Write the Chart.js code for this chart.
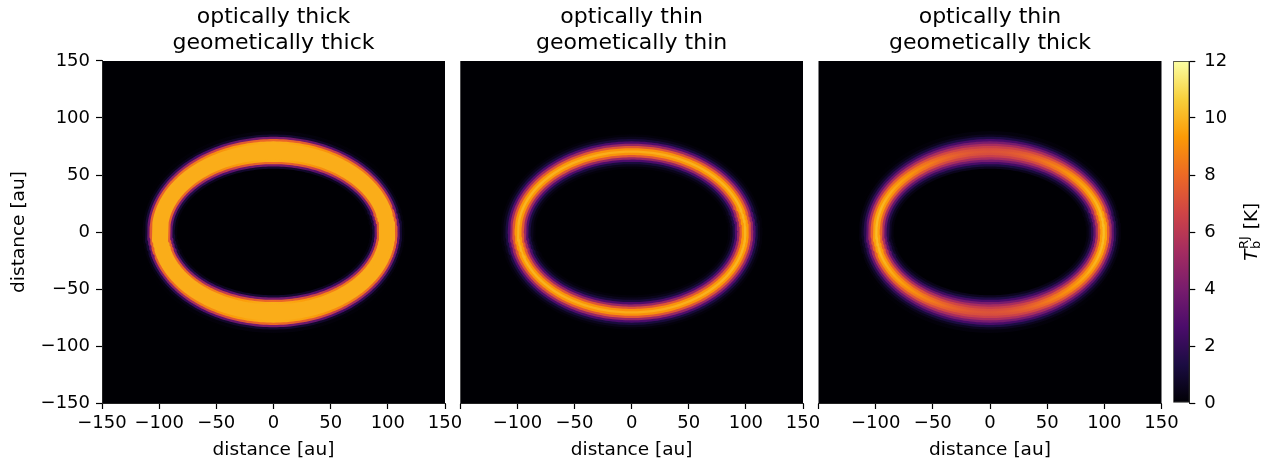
<!DOCTYPE html>
<html>
<head>
<meta charset="utf-8">
<script src="https://cdn.jsdelivr.net/npm/chart.js@4.4.1/dist/chart.umd.min.js"></script>
<style>
  html, body { margin: 0; padding: 0; background: #fff; }
  #wrap { position: relative; width: 1267px; height: 462px; overflow: hidden; }
  .panel { position: absolute; top: 0; height: 462px; }
</style>
</head>
<body>
<div id="wrap">
  <div class="panel" style="left:0px;width:470px"><canvas id="p0"></canvas></div>
  <div class="panel" style="left:440px;width:390px"><canvas id="p1"></canvas></div>
  <div class="panel" style="left:798px;width:390px"><canvas id="p2"></canvas></div>
  <div class="panel" style="left:1160px;width:107px"><canvas id="cbar"></canvas></div>
</div>
<script>
const panelTitles = [
  ['optically thick', 'geometically thick'],
  ['optically thin', 'geometically thin'],
  ['optically thin', 'geometically thick']
];
const axisTicks = [-150, -100, -50, 0, 50, 100, 150];
const colorbarTicks = [0, 2, 4, 6, 8, 10, 12];

// ring centre semi-axes (au) for each panel
const ringMajor = [100, 100, 100];
const ringMinor = [71, 71, 71];

// radial offsets from the ring centre (au), outer -> inner
const ringOffsets = [16, 14, 12, 10, 8, 6, 4, 2, 0, -2, -4, -6, -8, -10, -12, -14, -16];

// brightness temperature (K) across the ring, left/right (major axis) and top/bottom (minor axis)
const tbSideThickThick = [0, 0.2, 1.0, 3.5, 7.5, 9.8, 9.8, 9.8, 9.8, 9.8, 9.8, 9.8, 7.5, 3.5, 1.0, 0.2, 0];
const tbTopThickThick  = [0.2, 1.0, 4.0, 8.0, 9.8, 9.8, 9.8, 9.8, 9.8, 9.8, 9.8, 9.8, 9.8, 8.0, 4.0, 1.0, 0];
const tbSideThinThin   = [0, 0.15, 0.5, 1.3, 2.8, 5.0, 7.4, 9.3, 10, 9.3, 7.4, 5.0, 2.8, 1.3, 0.5, 0.15, 0];
const tbTopThinThin    = [0, 0.15, 0.5, 1.2, 2.7, 4.9, 7.3, 9.1, 9.8, 9.1, 7.3, 4.9, 2.7, 1.2, 0.5, 0.15, 0];
const tbSideThinThick  = [0, 0.25, 0.7, 1.7, 3.3, 5.5, 7.8, 9.5, 10.2, 9.5, 7.8, 5.5, 3.3, 1.7, 0.7, 0.25, 0];
const tbTopThinThick   = [0.2, 0.6, 1.4, 2.6, 4.0, 5.4, 6.4, 7.0, 7.2, 7.0, 6.4, 5.4, 4.0, 2.6, 1.4, 0.6, 0];

const sideProfiles = [tbSideThickThick, tbSideThinThin, tbSideThinThick];
const topProfiles = [tbTopThickThick, tbTopThinThin, tbTopThinThick];

const infernoStops = ['#000004', '#1b0c42', '#4b0c6b', '#781c6d', '#a52c60', '#cf4446', '#ed6925', '#fb9a06', '#f7d03c', '#fcffa4'];

Chart.defaults.font.family = "'DejaVu Sans', 'Liberation Sans', sans-serif";
Chart.defaults.color = '#000';

const hexRgb = h => [1, 3, 5].map(i => parseInt(h.slice(i, i + 2), 16));
const infernoRgb = infernoStops.map(hexRgb);

function infernoColor(tb) {
  const tbMax = colorbarTicks[colorbarTicks.length - 1];
  const t = Math.min(Math.max(tb / tbMax, 0), 1) * (infernoRgb.length - 1);
  const i = Math.min(Math.floor(t), infernoRgb.length - 2);
  const f = t - i;
  const c = infernoRgb[i].map((v, j) => Math.round(v + (infernoRgb[i + 1][j] - v) * f));
  return `rgb(${c[0]},${c[1]},${c[2]})`;
}

const fmtTick = v => (v < 0 ? '\u2212' + Math.abs(v) : String(v));

// a little past a full turn so the stroke overlaps itself and leaves no seam
function ellipsePoints(a, b) {
  const pts = [];
  for (let i = 0; i <= 248; i++) {
    const t = (i / 240) * 2 * Math.PI;
    pts.push({ x: a * Math.cos(t), y: b * Math.sin(t) });
  }
  return pts;
}

// colour around the ellipse blends the side and top brightness
function ringColor(side, top) {
  return (ctx) => {
    const chart = ctx.chart;
    const xs = chart.scales.x, ys = chart.scales.y;
    if (!chart.chartArea || !xs || !ys || !chart.ctx.createConicGradient) return infernoColor(side);
    const g = chart.ctx.createConicGradient(0, xs.getPixelForValue(0), ys.getPixelForValue(0));
    for (let s = 0; s <= 32; s++) {
      const w = Math.sin((s / 32) * 2 * Math.PI) ** 2;
      g.addColorStop(s / 32, infernoColor(side + (top - side) * w));
    }
    return g;
  };
}

const blackArea = {
  id: 'blackArea',
  beforeDraw(chart) {
    const { ctx, chartArea: a } = chart;
    ctx.save();
    ctx.fillStyle = '#000004';
    ctx.fillRect(a.left, a.top, a.width, a.height);
    ctx.restore();
  }
};

function makePanel(p, canvasId, padLeft, padRight) {
  const datasets = ringOffsets.map((off, k) => ({
    data: ellipsePoints(ringMajor[p] + off, ringMinor[p] + off),
    borderColor: ringColor(sideProfiles[p][k], topProfiles[p][k]),
    borderWidth: 3.4,
    borderCapStyle: 'round',
    borderJoinStyle: 'round',
    pointRadius: 0,
    fill: false,
    tension: 0
  }));

  return new Chart(document.getElementById(canvasId), {
    type: 'line',
    data: { datasets },
    plugins: [blackArea],
    options: {
      animation: false,
      responsive: true,
      maintainAspectRatio: false,
      events: [],
      layout: { padding: { left: padLeft, right: padRight, top: 0, bottom: 0 } },
      plugins: {
        legend: { display: false },
        tooltip: { enabled: false },
        title: {
          display: true,
          text: panelTitles[p],
          fullSize: false,
          color: '#000',
          font: { size: 22, weight: 'normal', lineHeight: 1.15 },
          padding: { top: 5, bottom: 5.4 }
        }
      },
      scales: {
        x: {
          type: 'linear',
          min: axisTicks[0],
          max: axisTicks[axisTicks.length - 1],
          afterBuildTicks: s => { s.ticks = axisTicks.map(v => ({ value: v })); },
          afterFit: s => { s.height = 59; },
          ticks: {
            autoSkip: false,
            maxRotation: 0,
            padding: 4,
            color: '#000',
            font: { size: 18 },
            callback: v => (p > 0 && v === axisTicks[0] ? '' : fmtTick(v))
          },
          grid: { display: true, drawOnChartArea: false, drawTicks: true, tickLength: 6, tickWidth: 1.2, tickColor: '#000' },
          border: { display: true, color: '#222', width: 1 },
          title: { display: true, text: 'distance [au]', color: '#000', font: { size: 18.5 }, padding: { top: 0, bottom: 1 } }
        },
        y: {
          type: 'linear',
          display: p === 0,
          min: axisTicks[0],
          max: axisTicks[axisTicks.length - 1],
          afterBuildTicks: s => { s.ticks = axisTicks.map(v => ({ value: v })); },
          afterFit: s => { s.width = p === 0 ? 102 : 0; },
          ticks: { autoSkip: false, padding: 6, color: '#000', font: { size: 18 }, callback: v => fmtTick(v) },
          grid: { display: true, drawOnChartArea: false, drawTicks: true, tickLength: 6, tickWidth: 1.2, tickColor: '#000' },
          border: { display: true, color: '#222', width: 1 },
          title: { display: true, text: 'distance [au]', color: '#000', font: { size: 18.5 }, padding: { top: 8, bottom: 0 } }
        }
      }
    }
  });
}

makePanel(0, 'p0', 0, 25);
makePanel(1, 'p1', 20.3, 27);
makePanel(2, 'p2', 20.5, 26.5);

const cbarLabel = {
  id: 'cbarLabel',
  afterDraw(chart) {
    const { ctx, chartArea: a } = chart;
    const cx = 89.4;
    const cy = (a.top + a.bottom) / 2;
    const big = "18.5px 'DejaVu Sans'";
    const small = "13px 'DejaVu Sans'";
    ctx.save();
    ctx.translate(cx, cy);
    ctx.rotate(-Math.PI / 2);
    ctx.fillStyle = '#000';
    ctx.textBaseline = 'alphabetic';
    ctx.font = 'italic ' + big;
    const wT = ctx.measureText('T').width;
    ctx.font = small;
    const wSub = Math.max(ctx.measureText('b').width, ctx.measureText('RJ').width);
    ctx.font = big;
    const wRest = ctx.measureText(' [K]').width;
    let x = -(wT + wSub + 1 + wRest) / 2;
    const base = 7.3;
    ctx.font = 'italic ' + big;
    ctx.fillText('T', x, base);
    x += wT + 0.5;
    ctx.font = small;
    ctx.fillText('b', x, base + 3.5);
    ctx.fillText('RJ', x, base - 9);
    x += wSub + 1;
    ctx.font = big;
    ctx.fillText(' [K]', x, base);
    ctx.restore();
  }
};

new Chart(document.getElementById('cbar'), {
  type: 'bar',
  data: {
    labels: [''],
    datasets: [{
      data: [[colorbarTicks[0], colorbarTicks[colorbarTicks.length - 1]]],
      backgroundColor: (ctx) => {
        const { chartArea, ctx: c } = ctx.chart;
        if (!chartArea) return infernoStops[0];
        const g = c.createLinearGradient(0, chartArea.bottom, 0, chartArea.top);
        infernoStops.forEach((col, i) => g.addColorStop(i / (infernoStops.length - 1), col));
        return g;
      },
      borderColor: '#222',
      borderWidth: 1,
      borderSkipped: false,
      barPercentage: 1,
      categoryPercentage: 1
    }]
  },
  plugins: [cbarLabel],
  options: {
    animation: false,
    responsive: true,
    maintainAspectRatio: false,
    events: [],
    layout: { padding: { left: 13.3, top: 61, bottom: 59, right: 0 } },
    plugins: { legend: { display: false }, tooltip: { enabled: false } },
    scales: {
      x: { display: false },
      y: {
        position: 'right',
        min: colorbarTicks[0],
        max: colorbarTicks[colorbarTicks.length - 1],
        afterBuildTicks: s => { s.ticks = colorbarTicks.map(v => ({ value: v })); },
        afterFit: s => { s.width = 77.7; },
        ticks: { padding: 9, color: '#000', font: { size: 18 } },
        grid: { display: true, drawOnChartArea: false, drawTicks: true, tickLength: 6, tickWidth: 1.2, tickColor: '#000' },
        border: { display: true, color: '#222', width: 1 }
      }
    }
  }
});
</script>
</body>
</html>
